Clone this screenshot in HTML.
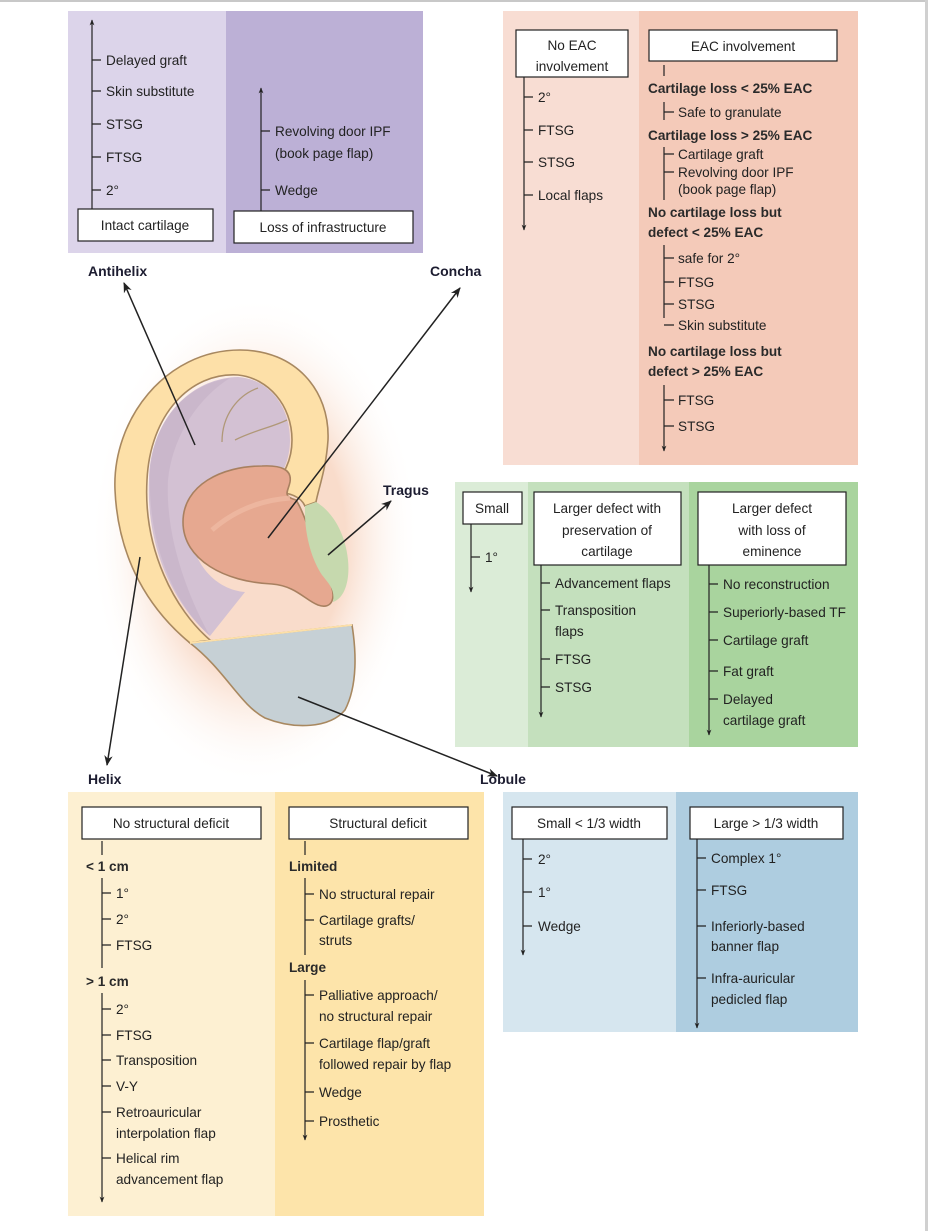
<!DOCTYPE html>
<html><head><meta charset="utf-8"><style>
html,body{margin:0;padding:0;background:#fff}
svg{display:block}
text{font-family:"Liberation Sans",sans-serif;font-size:13.6px;fill:#222}
.b{font-weight:bold;fill:#2a2a2a}
.lab{font-weight:bold;fill:#1c1c30;font-size:14px}
.c{text-anchor:middle}
.ln{stroke:#222;stroke-width:1.2;fill:none}
.bx{fill:#fff;stroke:#222;stroke-width:1.2}
</style></head><body>
<svg width="928" height="1231" viewBox="0 0 928 1231" xmlns="http://www.w3.org/2000/svg">
<defs>
<marker id="ah" viewBox="0 0 10 10" refX="9" refY="5" markerWidth="7" markerHeight="7" orient="auto-start-reverse"><path d="M0,1 L10,5 L0,9 L3,5 z" fill="#222"/></marker>
<marker id="sa" viewBox="0 0 10 10" refX="9" refY="5" markerWidth="5" markerHeight="5" orient="auto-start-reverse"><path d="M0,1 L10,5 L0,9 L3,5 z" fill="#222"/></marker>
<radialGradient id="glow" cx="0.5" cy="0.5" r="0.5"><stop offset="0.55" stop-color="#f9dccb"/><stop offset="1" stop-color="#fff" stop-opacity="0"/></radialGradient>
</defs>
<rect x="0" y="0" width="928" height="2" fill="#c8c8c8"/>
<rect x="925" y="0" width="3" height="1231" fill="#d0d0d0"/>

<!-- top-left purple -->
<rect x="68" y="11" width="158" height="242" fill="#dcd4ea"/>
<rect x="226" y="11" width="197" height="242" fill="#bcb0d6"/>
<line class="ln" x1="92" y1="209" x2="92" y2="20" marker-end="url(#sa)"/>
<g class="ln"><path d="M92 60h9M92 91h9M92 124h9M92 157h9M92 190h9"/></g>
<text x="106" y="65">Delayed graft</text><text x="106" y="96">Skin substitute</text><text x="106" y="129">STSG</text><text x="106" y="162">FTSG</text><text x="106" y="195">2°</text>
<rect class="bx" x="78" y="209" width="135" height="32"/><text class="c" x="145" y="230">Intact cartilage</text>
<line class="ln" x1="261" y1="211" x2="261" y2="88" marker-end="url(#sa)"/>
<g class="ln"><path d="M261 131h9M261 190h9"/></g>
<text x="275" y="136">Revolving door IPF</text><text x="275" y="158">(book page flap)</text><text x="275" y="195">Wedge</text>
<rect class="bx" x="234" y="211" width="179" height="32"/><text class="c" x="323" y="232">Loss of infrastructure</text>

<!-- top-right salmon -->
<rect x="503" y="11" width="136" height="454" fill="#f8ddd3"/>
<rect x="639" y="11" width="219" height="454" fill="#f4cab9"/>
<rect class="bx" x="516" y="30" width="112" height="47"/><text class="c" x="572" y="50">No EAC</text><text class="c" x="572" y="71">involvement</text>
<line class="ln" x1="524" y1="77" x2="524" y2="230" marker-end="url(#sa)"/>
<g class="ln"><path d="M524 97h9M524 130h9M524 162h9M524 195h9"/></g>
<text x="538" y="102">2°</text><text x="538" y="135">FTSG</text><text x="538" y="167">STSG</text><text x="538" y="200">Local flaps</text>
<rect class="bx" x="649" y="30" width="188" height="31"/><text class="c" x="743" y="51">EAC involvement</text>
<g class="ln"><path d="M664 65v11M664 102v18M664 147v53M664 245v73M664 112h10M664 154h10M664 172h10M664 258h10M664 282h10M664 304h10M664 325h10M664 400h10M664 426h10"/></g>
<line class="ln" x1="664" y1="385" x2="664" y2="451" marker-end="url(#sa)"/>
<text class="b" x="648" y="93">Cartilage loss &lt; 25% EAC</text>
<text x="678" y="117">Safe to granulate</text>
<text class="b" x="648" y="140">Cartilage loss &gt; 25% EAC</text>
<text x="678" y="159">Cartilage graft</text><text x="678" y="177">Revolving door IPF</text><text x="678" y="194">(book page flap)</text>
<text class="b" x="648" y="217">No cartilage loss but</text><text class="b" x="648" y="237">defect &lt; 25% EAC</text>
<text x="678" y="263">safe for 2°</text><text x="678" y="287">FTSG</text><text x="678" y="309">STSG</text><text x="678" y="330">Skin substitute</text>
<text class="b" x="648" y="356">No cartilage loss but</text><text class="b" x="648" y="376">defect &gt; 25% EAC</text>
<text x="678" y="405">FTSG</text><text x="678" y="431">STSG</text>

<!-- green -->
<rect x="455" y="482" width="73" height="265" fill="#dbecd7"/>
<rect x="528" y="482" width="161" height="265" fill="#c4e0bd"/>
<rect x="689" y="482" width="169" height="265" fill="#a9d49e"/>
<rect class="bx" x="463" y="492" width="59" height="32"/><text class="c" x="492" y="513">Small</text>
<line class="ln" x1="471" y1="524" x2="471" y2="592" marker-end="url(#sa)"/>
<path class="ln" d="M471 557h9"/><text x="485" y="562">1°</text>
<rect class="bx" x="534" y="492" width="147" height="73"/><text class="c" x="607" y="513">Larger defect with</text><text class="c" x="607" y="535">preservation of</text><text class="c" x="607" y="556">cartilage</text>
<line class="ln" x1="541" y1="565" x2="541" y2="717" marker-end="url(#sa)"/>
<g class="ln"><path d="M541 583h9M541 610h9M541 659h9M541 687h9"/></g>
<text x="555" y="588">Advancement flaps</text><text x="555" y="615">Transposition</text><text x="555" y="636">flaps</text><text x="555" y="664">FTSG</text><text x="555" y="692">STSG</text>
<rect class="bx" x="698" y="492" width="148" height="73"/><text class="c" x="772" y="513">Larger defect</text><text class="c" x="772" y="535">with loss of</text><text class="c" x="772" y="556">eminence</text>
<line class="ln" x1="709" y1="565" x2="709" y2="735" marker-end="url(#sa)"/>
<g class="ln"><path d="M709 584h9M709 612h9M709 640h9M709 671h9M709 699h9"/></g>
<text x="723" y="589">No reconstruction</text><text x="723" y="617">Superiorly-based TF</text><text x="723" y="645">Cartilage graft</text><text x="723" y="676">Fat graft</text><text x="723" y="704">Delayed</text><text x="723" y="725">cartilage graft</text>

<!-- helix panel -->
<rect x="68" y="792" width="207" height="424" fill="#fdf0d2"/>
<rect x="275" y="792" width="209" height="424" fill="#fde4aa"/>
<rect class="bx" x="82" y="807" width="179" height="32"/><text class="c" x="171" y="828">No structural deficit</text>
<g class="ln"><path d="M102 841v14M102 878v90"/></g>
<line class="ln" x1="102" y1="993" x2="102" y2="1202" marker-end="url(#sa)"/>
<g class="ln"><path d="M102 893h9M102 919h9M102 945h9M102 1009h9M102 1035h9M102 1060h9M102 1086h9M102 1112h9M102 1158h9"/></g>
<text class="b" x="86" y="871">&lt; 1 cm</text>
<text x="116" y="898">1°</text><text x="116" y="924">2°</text><text x="116" y="950">FTSG</text>
<text class="b" x="86" y="986">&gt; 1 cm</text>
<text x="116" y="1014">2°</text><text x="116" y="1040">FTSG</text><text x="116" y="1065">Transposition</text><text x="116" y="1091">V-Y</text><text x="116" y="1117">Retroauricular</text><text x="116" y="1138">interpolation flap</text><text x="116" y="1163">Helical rim</text><text x="116" y="1184">advancement flap</text>
<rect class="bx" x="289" y="807" width="179" height="32"/><text class="c" x="378" y="828">Structural deficit</text>
<g class="ln"><path d="M305 841v14M305 878v77"/></g>
<line class="ln" x1="305" y1="980" x2="305" y2="1140" marker-end="url(#sa)"/>
<g class="ln"><path d="M305 894h9M305 920h9M305 995h9M305 1043h9M305 1092h9M305 1121h9"/></g>
<text class="b" x="289" y="871">Limited</text>
<text x="319" y="899">No structural repair</text><text x="319" y="925">Cartilage grafts/</text><text x="319" y="945">struts</text>
<text class="b" x="289" y="972">Large</text>
<text x="319" y="1000">Palliative approach/</text><text x="319" y="1021">no structural repair</text><text x="319" y="1048">Cartilage flap/graft</text><text x="319" y="1069">followed repair by flap</text><text x="319" y="1097">Wedge</text><text x="319" y="1126">Prosthetic</text>

<!-- lobule panel -->
<rect x="503" y="792" width="173" height="240" fill="#d6e6ef"/>
<rect x="676" y="792" width="182" height="240" fill="#aecde0"/>
<rect class="bx" x="512" y="807" width="155" height="32"/><text class="c" x="589" y="828">Small &lt; 1/3 width</text>
<line class="ln" x1="523" y1="839" x2="523" y2="955" marker-end="url(#sa)"/>
<g class="ln"><path d="M523 859h9M523 892h9M523 926h9"/></g>
<text x="538" y="864">2°</text><text x="538" y="897">1°</text><text x="538" y="931">Wedge</text>
<rect class="bx" x="690" y="807" width="153" height="32"/><text class="c" x="766" y="828">Large &gt; 1/3 width</text>
<line class="ln" x1="697" y1="839" x2="697" y2="1028" marker-end="url(#sa)"/>
<g class="ln"><path d="M697 858h9M697 890h9M697 926h9M697 978h9"/></g>
<text x="711" y="863">Complex 1°</text><text x="711" y="895">FTSG</text><text x="711" y="931">Inferiorly-based</text><text x="711" y="951">banner flap</text><text x="711" y="983">Infra-auricular</text><text x="711" y="1004">pedicled flap</text>

<!-- ear -->
<ellipse cx="255" cy="540" rx="165" ry="245" fill="url(#glow)"/>
<path d="M190,643 C150,610 118,560 115,490 C112,420 165,350 240,350 C295,350 330,390 328,440 C326,470 318,490 316,502 L305,506 C300,495 287,492 272,492 L268,488 C285,478 292,458 292,440 C292,405 268,378 238,375 C190,372 150,415 147,480 C143,550 175,610 210,640 Z" fill="#fde0a8" stroke="#a88860" stroke-width="1.6"/>
<path d="M149,480 C150,420 190,378 238,377 C268,379 290,405 290,440 C290,458 283,478 268,488 C240,470 200,480 190,510 C185,560 215,590 245,592 L210,636 C175,605 146,550 149,480 Z" fill="#d3c1d3"/>
<path d="M150,470 C155,420 185,385 230,378 C195,400 172,440 168,480 C165,540 190,600 210,636 C175,605 147,545 150,470 Z" fill="#c4b0c6" opacity="0.6"/>
<path d="M222,442 C222,415 238,395 258,388 M235,440 C255,430 270,428 287,420" stroke="#b09878" stroke-width="1.3" fill="none"/>
<!-- concha -->
<path d="M262,466 C282,465 292,470 290,482 C288,492 282,496 296,500 C306,515 316,555 328,578 C338,598 332,610 318,605 C305,600 296,586 272,584 C225,582 183,560 183,522 C183,485 222,466 262,466 Z" fill="#e6a890" stroke="#a88060" stroke-width="1.6"/>
<path d="M212,530 C235,510 262,500 290,498" stroke="#efb9a2" stroke-width="5" fill="none" opacity="0.8"/>
<!-- tragus -->
<path d="M305,506 L316,502 C330,510 345,530 348,560 C350,580 345,598 333,602 C335,590 330,585 322,575 C312,560 304,535 305,506 Z" fill="#c6d9ae"/>
<!-- lobule -->
<path d="M190,643 L352,625 C356,650 358,685 345,710 C330,728 295,730 265,718 C240,705 225,670 190,643 Z" fill="#c6d0d5" stroke="#a88860" stroke-width="1.6"/>
<path d="M190,643 L352,625" stroke="#fde0a8" stroke-width="1.8"/>

<g stroke="#222" stroke-width="1.5" fill="none">
<line x1="195" y1="445" x2="124" y2="283" marker-end="url(#ah)"/>
<line x1="268" y1="538" x2="460" y2="288" marker-end="url(#ah)"/>
<line x1="328" y1="555" x2="391" y2="501" marker-end="url(#ah)"/>
<line x1="140" y1="557" x2="107" y2="765" marker-end="url(#ah)"/>
<line x1="298" y1="697" x2="497" y2="776" marker-end="url(#ah)"/>
</g>
<text class="lab" x="88" y="276">Antihelix</text>
<text class="lab" x="430" y="276">Concha</text>
<text class="lab" x="383" y="495">Tragus</text>
<text class="lab" x="88" y="784">Helix</text>
<text class="lab" x="480" y="784">Lobule</text>
</svg>
</body></html>
